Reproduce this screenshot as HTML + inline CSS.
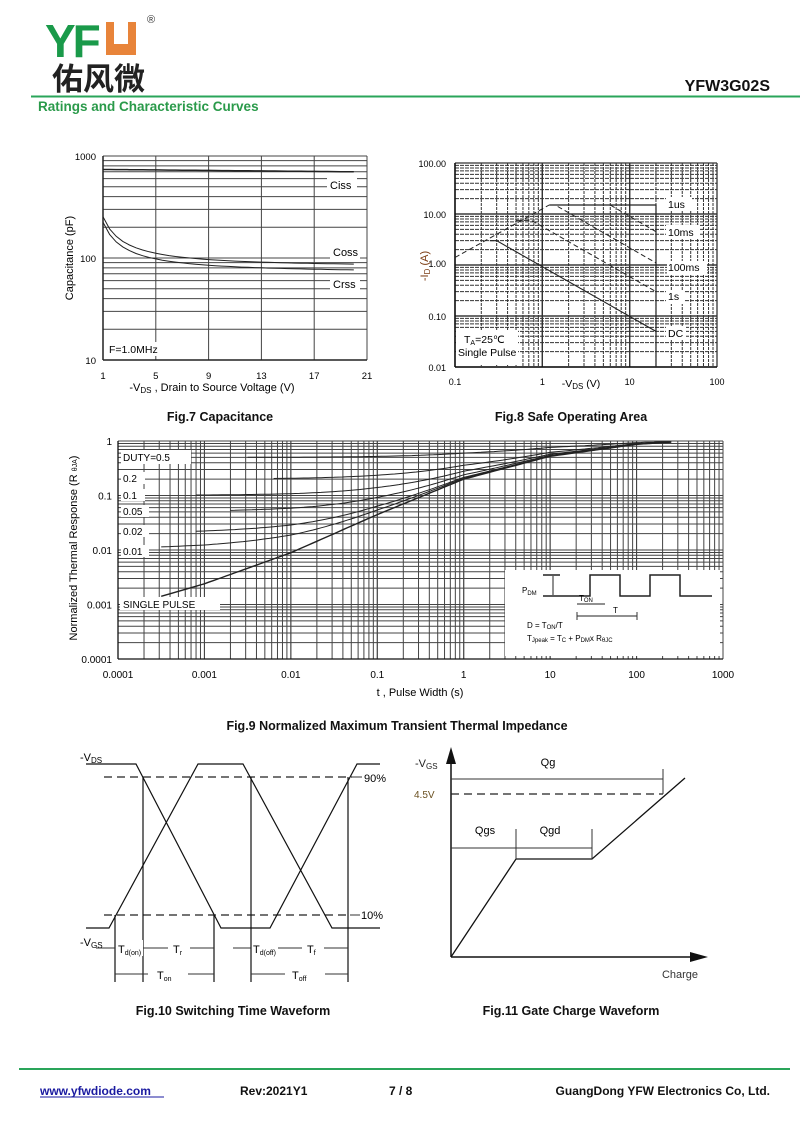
<!DOCTYPE html>
<html><head><meta charset="utf-8">
<style>
body{margin:0;background:#fff;}
svg{display:block;font-family:"Liberation Sans",Arial,sans-serif;}
</style></head>
<body>
<svg id="s" width="800" height="1130" viewBox="0 0 800 1130" xmlns="http://www.w3.org/2000/svg">
<rect width="800" height="1130" fill="#fff"/>
<text x="45" y="57" font-size="46" font-weight="bold" fill="#1a9a4a" font-family="Liberation Sans,sans-serif" letter-spacing="-3">YF</text>
<path d="M106 22 h8 v22 h14 v-22 h8 v33 h-30z" fill="#e8843a"/>
<text x="147" y="23" font-size="11" fill="#333">®</text>
<text x="52" y="90" font-size="31" font-weight="bold" fill="#222" font-family="'Noto Sans CJK SC',sans-serif">佑风微</text>
<text x="770" y="91" font-size="16" font-weight="bold" text-anchor="end" fill="#111">YFW3G02S</text>
<line x1="31" y1="96.5" x2="800" y2="96.5" stroke="#2aa55a" stroke-width="2"/>
<text x="38" y="111" font-size="13.5" font-weight="bold" fill="#2a9a4a">Ratings and Characteristic Curves</text>
<g id="g"></g>
<g font-size="12.5" font-weight="bold" fill="#111" text-anchor="middle">
<text x="220" y="421">Fig.7 Capacitance</text>
<text x="571" y="421">Fig.8 Safe Operating Area</text>
<text x="397" y="730">Fig.9 Normalized Maximum Transient Thermal Impedance</text>
<text x="233" y="1015">Fig.10 Switching Time Waveform</text>
<text x="571" y="1015">Fig.11 Gate Charge Waveform</text>
</g>
<line x1="19" y1="1069" x2="790" y2="1069" stroke="#2aa55a" stroke-width="2"/>
<g font-size="12" font-weight="bold" fill="#111">
<text x="40" y="1095" fill="#1a1aa0">www.yfwdiode.com</text>
<line x1="40" y1="1097" x2="164" y2="1097" stroke="#1a1aa0" stroke-width="1"/>
<text x="240" y="1095">Rev:2021Y1</text>
<text x="389" y="1095">7 / 8</text>
<text x="770" y="1095" text-anchor="end">GuangDong YFW Electronics Co, Ltd.</text>
</g>
</svg>
<script>
var G=document.getElementById('g'),o='';
function L(x1,y1,x2,y2,w,c,d){o+='<line x1="'+x1+'" y1="'+y1+'" x2="'+x2+'" y2="'+y2+'" stroke="'+(c||'#333')+'" stroke-width="'+(w||1)+'"'+(d?' stroke-dasharray="'+d+'"':'')+'/>';}
function T(x,y,t,s,a,ex){o+='<text x="'+x+'" y="'+y+'" font-size="'+(s||10)+'"'+(a?' text-anchor="'+a+'"':'')+' '+(ex||'')+'>'+t+'</text>';}
function P(pts,w,c,d){o+='<polyline fill="none" points="'+pts.map(p=>p[0].toFixed(1)+','+p[1].toFixed(1)).join(' ')+'" stroke="'+(c||'#222')+'" stroke-width="'+(w||1)+'"'+(d?' stroke-dasharray="'+d+'"':'')+'/>';}
function R(x,y,w,h){o+='<rect x="'+x+'" y="'+y+'" width="'+w+'" height="'+h+'" fill="#fff"/>';}
var lg=Math.log10;
/* Fig7 */
var X0=103,X1=367,Y0=156,Y1=360;
function fy7(v){return Y1-(lg(v)-1)/2*(Y1-Y0);}
function fx7(v){return X0+(v-1)/20*(X1-X0);}
for(var d=10;d<=100;d*=10)for(var k=1;k<=10;k++)L(X0,fy7(d*k),X1,fy7(d*k),1,'#444');
for(var v=1;v<=21;v+=4)L(fx7(v),Y0,fx7(v),Y1,1,'#444');
L(X0,Y0,X0,Y1,1.5,'#222');L(X0,Y1,X1,Y1,1.5,'#222');
var c1=[],c2=[],c3=[];
for(var v=1;v<=20;v+=0.5){c1.push([fx7(v),fy7(740-2*v)]);c2.push([fx7(v),fy7(82+175/Math.pow(v,1.05)*Math.exp(-0.02*v))]);c3.push([fx7(v),fy7(72+155/Math.pow(v,1.05)*Math.exp(-0.02*v))]);}
P(c1,1.5);P(c2,1);P(c3,1);
R(327,177,30,15);T(330,189,'Ciss',11);R(330,245,30,14);T(333,256,'Coss',11);R(330,277,30,14);T(333,288,'Crss',11);
R(107,342,60,14);T(109,353,'F=1.0MHz',10.5);
['10','100','1000'].forEach((t,i)=>T(96,fy7(Math.pow(10,i+1))+4,t,9.5,'end'));
[1,5,9,13,17,21].forEach(v=>T(fx7(v),379,v,9.5,'middle'));
T(212,391,'-V<tspan font-size="8" dy="2">DS</tspan><tspan dy="-2"> , Drain to Source Voltage (V)</tspan>',11,'middle');
T(0,0,'Capacitance (pF)',11,'middle','transform="translate(73,258) rotate(-90)"');
/* Fig8 */
var A0=455,A1=717,B0=163,B1=367;
function fx8(v){return A0+(lg(v)+1)/3*(A1-A0);}
function fy8(v){return B1-(lg(v)+2)/4*(B1-B0);}
for(var d=0.1;d<50;d*=10)for(var k=1;k<=10;k++){var xx=fx8(d*k);L(xx,B0,xx,B1,k==1||k==10?1.3:1,'#333',k==1||k==10?null:'3,1');}
for(var d=0.01;d<50;d*=10)for(var k=1;k<=10;k++){var yy=fy8(d*k);L(A0,yy,A1,yy,k==1||k==10?1.3:1,'#333',k==1||k==10?null:'4,1');}
L(A0,B0,A0,B1,1.5,'#111');L(A0,B1,A1,B1,1.5,'#111');
P([[fx8(0.1),fy8(1.4)],[fx8(1.2),fy8(15)]],1,'#222','5,3');
P([[fx8(1.2),fy8(15)],[fx8(20),fy8(15)],[fx8(20),fy8(0.01)]],1.2,'#222');
P([[fx8(6),fy8(15)],[fx8(20),fy8(4.5)]],1,'#222','5,3');
P([[fx8(1.5),fy8(14)],[fx8(20),fy8(1.1)]],1,'#222','5,3');
P([[fx8(0.5),fy8(7.5)],[fx8(0.75),fy8(7.5)],[fx8(20),fy8(0.3)]],1,'#222','5,3');
P([[fx8(0.25),fy8(3)],[fx8(0.3),fy8(3)],[fx8(20),fy8(0.05)]],1.1,'#222');
R(666,197,26,14);T(668,208,'1us',10.5);R(666,225,34,14);T(668,236,'10ms',10.5);R(667,261,40,14);T(668,271,'100ms',10.5);
R(666,290,18,14);T(668,300,'1s',10.5);R(666,326,20,14);T(668,337,'DC',10.5);
R(456,330,62,35);T(464,343,'T<tspan font-size="7" dy="2">A</tspan><tspan dy="-2">=25℃</tspan>',10.5);T(458,356,'Single Pulse',10.5);
['0.01','0.10','1.00','10.00','100.00'].forEach((t,i)=>T(446,fy8(Math.pow(10,i-2))+4,t,9,'end'));
R(425,258,22,12);T(446,267,'1.00',9,'end');
[['0.1',0.1],['1',1],['10',10],['100',100]].forEach(a=>T(fx8(a[1]),385,a[0],9,'middle'));
T(581,387,'-V<tspan font-size="8" dy="2">DS</tspan><tspan dy="-2"> (V)</tspan>',10.5,'middle');
T(0,0,'-I<tspan font-size="8" dy="2">D</tspan><tspan dy="-2"> (A)</tspan>',11,'middle','fill="#7a3a10" transform="translate(428,266) rotate(-90)"');
/* Fig9 */
var C0=118,C1=723,D0=441,D1=659;
function fx9(v){return C0+(lg(v)+4)/7*(C1-C0);}
function fy9(v){return D1-(lg(v)+4)/4*(D1-D0);}
for(var d=1e-4;d<500;d*=10)for(var k=1;k<=10;k++)L(fx9(d*k),D0,fx9(d*k),D1,1,'#444');
for(var d=1e-4;d<0.5;d*=10)for(var k=1;k<=10;k++)L(C0,fy9(d*k),C1,fy9(d*k),1,'#444');
L(C0,D0,C0,D1,1.3,'#111');L(C0,D1,C1,D1,1.3,'#111');
var sp=[[-3.5,-2.85],[-3,-2.62],[-2,-2.05],[-1,-1.35],[0,-0.7],[1,-0.28],[2,-0.06],[2.4,-0.02]];
function zs(lt){for(var i=0;i<sp.length-1;i++)if(lt<=sp[i+1][0]){var f=(lt-sp[i][0])/(sp[i+1][0]-sp[i][0]);return Math.pow(10,sp[i][1]+f*(sp[i+1][1]-sp[i][1]));}return 0.96;}
[[0,-3.5],[0.01,-3.5],[0.02,-3.1],[0.05,-2.7],[0.1,-3.1],[0.2,-2.2],[0.5,-2.5]].forEach(a=>{var D=a[0],pts=[];for(var lt=a[1];lt<=2.4;lt+=0.05){var z=D+(1-D)*zs(lt);pts.push([fx9(Math.pow(10,lt)),fy9(Math.min(z,0.97))]);}P(pts,D==0?1.4:1,'#222');});
R(121,450,70,14);T(123,461,'DUTY=0.5',10);R(121,472,24,12);T(123,482,'0.2',10);R(121,489,24,12);T(123,499,'0.1',10);
R(121,505,28,12);T(123,515,'0.05',10);R(121,525,28,12);T(123,535,'0.02',10);R(121,545,28,12);T(123,555,'0.01',10);
R(120,597,100,13);T(123,608,'SINGLE PULSE',10);
R(505,570,215,86);
L(543,575,560,575,1.5,'#222');L(543,596,560,596,1.5,'#222');
P([[560,596],[590,596],[590,575],[620,575],[620,596],[650,596],[650,575],[680,575],[680,596],[712,596]],1.5,'#222');
L(553,576,553,595,1,'#222');T(522,593,'P<tspan font-size="6" dy="2">DM</tspan>',8);
L(577,604,605,604,1,'#222');T(579,601,'T<tspan font-size="6" dy="1">ON</tspan>',8);
L(577,616,637,616,1,'#222');L(577,612,577,620);L(637,612,637,620);T(613,613,'T',8);
T(527,628,'D = T<tspan font-size="6" dy="1">ON</tspan><tspan dy="-1">/T</tspan>',8);
T(527,641,'T<tspan font-size="6" dy="1">Jpeak</tspan><tspan dy="-1"> = T</tspan><tspan font-size="6" dy="1">C</tspan><tspan dy="-1"> + P</tspan><tspan font-size="6" dy="1">DM</tspan><tspan dy="-1">x R</tspan><tspan font-size="6" dy="1">θJC</tspan>',8);
['0.0001','0.001','0.01','0.1','1'].forEach((t,i)=>T(112,fy9(Math.pow(10,i-4))+4,t,10,'end'));
['0.0001','0.001','0.01','0.1','1','10','100','1000'].forEach((t,i)=>T(fx9(Math.pow(10,i-4)),678,t,10,'middle'));
T(420,696,'t , Pulse Width (s)',11,'middle');
T(0,0,'Normalized Thermal Response (R <tspan font-size="7">θJA</tspan>)',11,'middle','transform="translate(77,548) rotate(-90)"');
/* Fig10 */
L(104,777,352,777,1.2,'#222','8,5');L(104,915,350,915,1.2,'#222','8,5');
L(352,777,362,777,1);L(350,915,360,915,1);
P([[86,764],[136,764],[221,928],[270,928],[357,764],[380,764]],1.2,'#111');
P([[86,928],[109,928],[198,764],[243,764],[332,928],[380,928]],1.2,'#111');
[[115,915],[143,777],[214,915],[251,777],[348,777]].forEach(a=>L(a[0],a[1],a[0],982,1.2,'#111'));
T(80,761,'-V<tspan font-size="8" dy="2">DS</tspan>',11);T(80,946,'-V<tspan font-size="8" dy="2">GS</tspan>',11);
T(364,782,'90%',11);T(361,919,'10%',11);
L(96,948,115,948);L(143,948,214,948);L(233,948,251,948);L(277,948,348,948);L(115,974,214,974);L(251,974,348,974);
R(117,940,26,16);T(118,953,'T<tspan font-size="7" dy="2">d(on)</tspan>',11);
R(168,940,22,16);T(173,953,'T<tspan font-size="7" dy="2">r</tspan>',11);
R(252,940,26,16);T(253,953,'T<tspan font-size="7" dy="2">d(off)</tspan>',11);
R(302,940,22,16);T(307,953,'T<tspan font-size="7" dy="2">f</tspan>',11);
R(148,966,40,16);T(157,979,'T<tspan font-size="7" dy="2">on</tspan>',11);
R(285,966,40,16);T(292,979,'T<tspan font-size="7" dy="2">off</tspan>',11);
/* Fig11 */
L(451,957,451,760,1.5,'#111');o+='<path d="M446 764 L451 747 L456 764Z" fill="#111"/>';
L(451,957,695,957,1.5,'#111');o+='<path d="M690 952 L708 957 L690 962Z" fill="#111"/>';
P([[451,957],[516,859],[592,859],[685,778]],1.3,'#111');
L(451,794,663,794,1.2,'#222','8,5');
L(451,779,663,779,1);L(663,769,663,794,1);L(451,848,516,848,1);L(516,829,516,859,1);L(516,848,592,848,1);L(592,829,592,859,1);
T(415,767,'-V<tspan font-size="8" dy="2">GS</tspan>',11,null,'fill="#222"');T(548,766,'Qg',11,'middle');T(414,798,'4.5V',10,null,'fill="#6a5020"');
T(485,834,'Qgs',11,'middle');T(550,834,'Qgd',11,'middle');T(680,978,'Charge',11,'middle','fill="#333"');
G.innerHTML=o;
</script>
</body></html>
